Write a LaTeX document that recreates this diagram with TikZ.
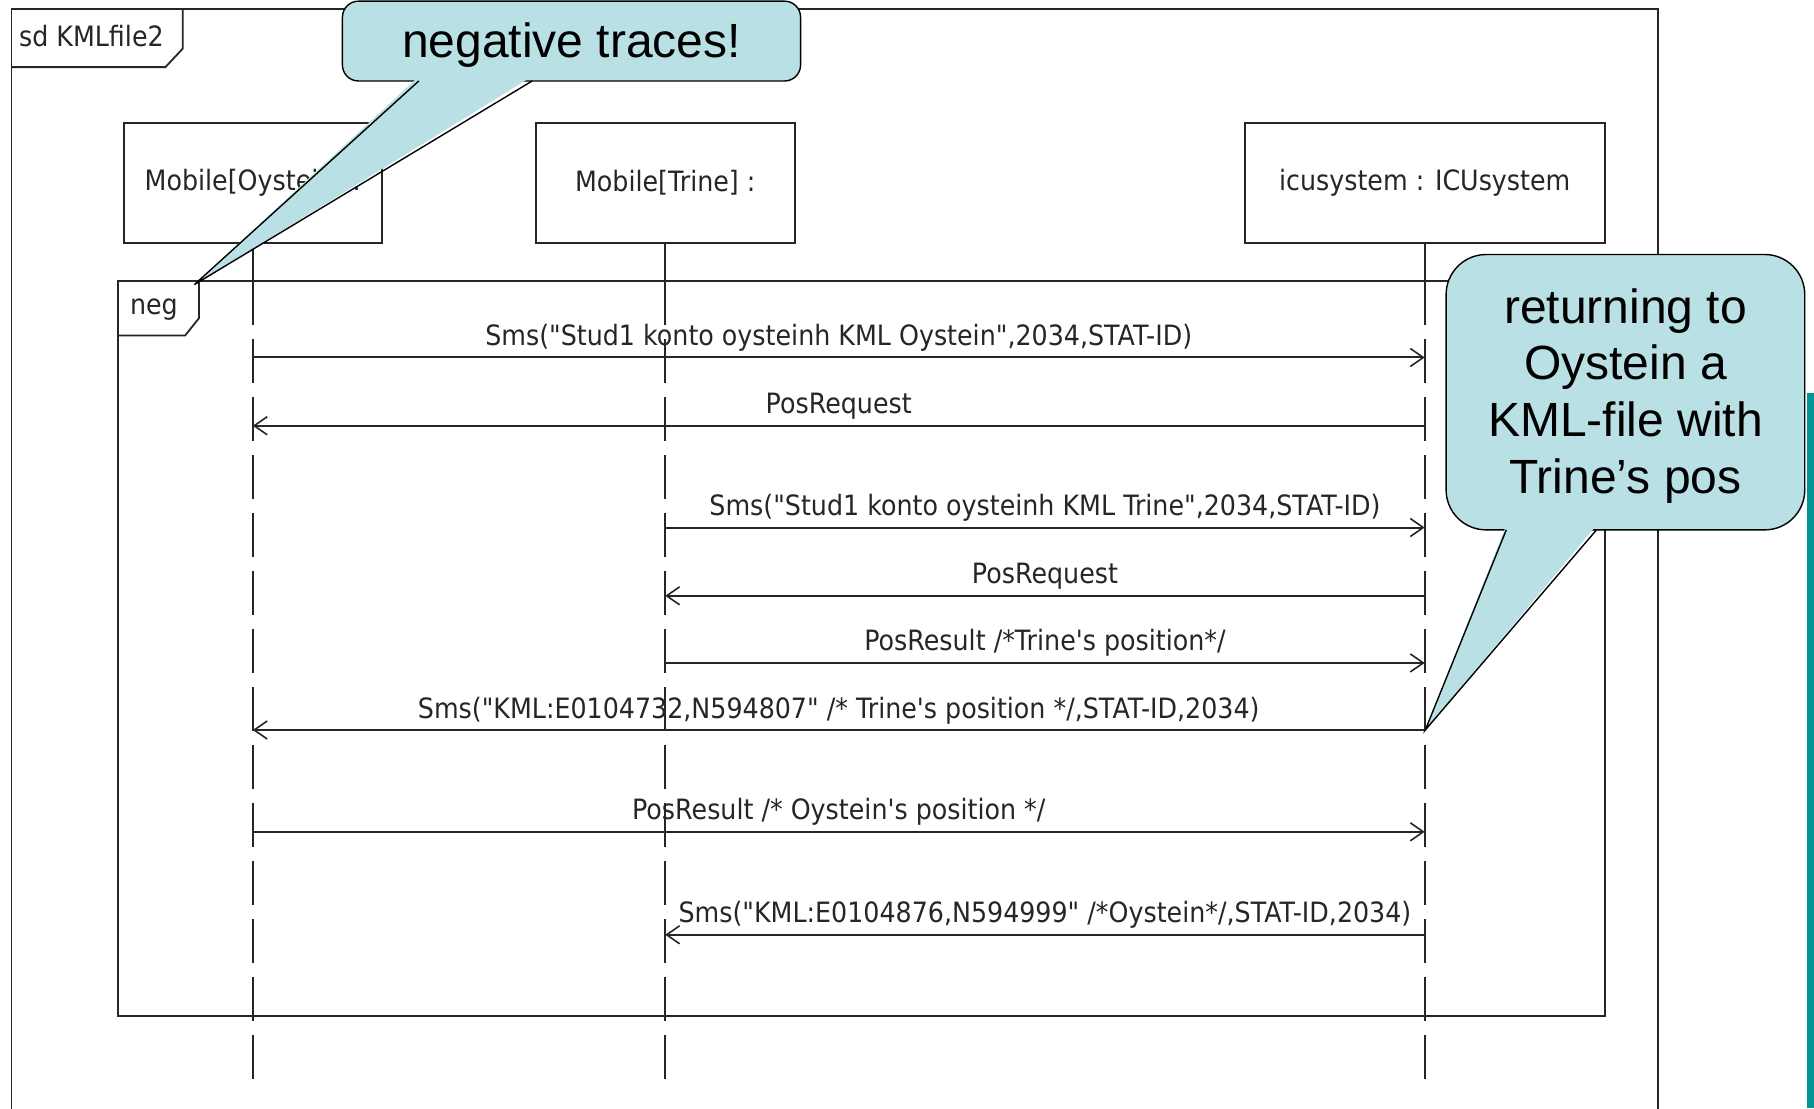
\documentclass[tikz,border=0pt]{standalone}
\usepackage{fontspec}
\setmainfont{Liberation Sans}
\newfontfamily\umlfont[FakeStretch=0.905]{DejaVu Sans}
\usetikzlibrary{arrows.meta}
\definecolor{calloutfill}{RGB}{185,224,228}
\definecolor{sideteal}{RGB}{0,150,150}

\begin{document}
\begin{tikzpicture}[x=1.1569pt,y=-1.1569pt,
  every node/.style={inner sep=0pt, outer sep=0pt},
  frameline/.style={line width=1.8pt, black!85},
  lifebox/.style={draw, line width=1.8pt, black!85, text=black!85,
    minimum height=120pt, font=\umlfont\fontsize{28}{33}\selectfont},
  lifesolid/.style={line width=1.6pt, black!85},
  lifedash/.style={line width=1.6pt, black!85, dash pattern=on 44pt off 14pt},
  msg/.style={line width=2pt, black!85,
    -{Straight Barb[length=13pt,width=18pt,line width=1.6pt]}},
  lbl/.style={midway, anchor=base, yshift=12pt, text=black!85,
    font=\umlfont\fontsize{28}{33}\selectfont},
  tablbl/.style={text=black!85, font=\umlfont\fontsize{28}{33}\selectfont},
  callout/.style={fill=calloutfill, draw=black, line width=1.4pt},
  callouttext/.style={font=\fontsize{48}{56.7}\selectfont, align=center}]

\useasboundingbox[fill=white] (0,0) rectangle (1568,958);

% diagram frame with its name tab
\draw[frameline] (10,990) -- (10,8) -- (1433,8) -- (1433,990);
\draw[frameline] (10,58) -- (143,58) -- (158,42) -- (158,8);
\node[tablbl] (sdname) at (79,31) {sd KMLfile2};

% lifeline heads
\node[lifebox, minimum width=258pt] (oy) at (218.5,158) {Mobile[Oystein] :};
\node[lifebox, minimum width=259pt] (tr) at (575,158) {Mobile[Trine] :};
\node[lifebox, minimum width=360pt] (icu) at (1231.5,158) {icusystem : ICUsystem};

% combined fragment "neg"
\coordinate (negtop) at (0,243);
\coordinate (lifeend) at (0,940);
\draw[frameline] (102,243) rectangle (1387,878);
\draw[frameline] (102,290) -- (160,290) -- (172,275) -- (172,243);
\node[tablbl] (negname) at (133,268) {neg};

% lifelines
\foreach \l in {oy,tr,icu}{
  \draw[lifesolid] (\l.south) -- (\l.south |- negtop);
  \draw[lifedash] (\l.south |- negtop) -- (\l.south |- lifeend);
}

% messages
\coordinate (m1) at (0,309);
\coordinate (m2) at (0,368);
\coordinate (m3) at (0,456);
\coordinate (m4) at (0,515);
\coordinate (m5) at (0,573);
\coordinate (m6) at (0,631);
\coordinate (m7) at (0,719);
\coordinate (m8) at (0,808);

\draw[msg] (oy.south |- m1) -- node[lbl] (l1) {Sms("Stud1 konto oysteinh KML Oystein",2034,STAT-ID)} (icu.south |- m1);
\draw[msg] (icu.south |- m2) -- node[lbl] (l2) {PosRequest} (oy.south |- m2);
\draw[msg] (tr.south |- m3) -- node[lbl] (l3) {Sms("Stud1 konto oysteinh KML Trine",2034,STAT-ID)} (icu.south |- m3);
\draw[msg] (icu.south |- m4) -- node[lbl] (l4) {PosRequest} (tr.south |- m4);
\draw[msg] (tr.south |- m5) -- node[lbl] (l5) {PosResult /*Trine's position*/} (icu.south |- m5);
\draw[msg] (icu.south |- m6) -- node[lbl] (l6) {Sms("KML:E0104732,N594807" /* Trine's position */,STAT-ID,2034)} (oy.south |- m6);
\draw[msg] (oy.south |- m7) -- node[lbl] (l7) {PosResult /* Oystein's position */} (icu.south |- m7);
\draw[msg] (icu.south |- m8) -- node[lbl] (l8) {Sms("KML:E0104876,N594999" /*Oystein*/,STAT-ID,2034)} (tr.south |- m8);

% side bar
\fill[sideteal] (1562,340) rectangle (1568,958);

% callout: negative traces
\coordinate (c1tip) at (168,246);
\draw[callout, rounded corners=16pt] (296,1) rectangle (692,70);
\fill[calloutfill] (362,66) -- (c1tip) -- (460,66) -- cycle;
\draw[line width=1.4pt] (362,70) -- (c1tip) -- (460,70);
\node[callouttext] (c1) at (494,39) {negative traces!};

% callout: returning KML file
\coordinate (c2tip) at (1232,631);
\draw[callout, rounded corners=40pt] (1250,220) rectangle (1560,458);
\fill[calloutfill] (1302,454) -- (c2tip) -- (1380,454) -- cycle;
\draw[line width=1.4pt] (1302,458) -- (c2tip) -- (1380,458);
\node[callouttext] (c2) at (1405,342) {returning to\\Oystein a\\KML-file with\\Trine’s pos};
\end{tikzpicture}
\end{document}
